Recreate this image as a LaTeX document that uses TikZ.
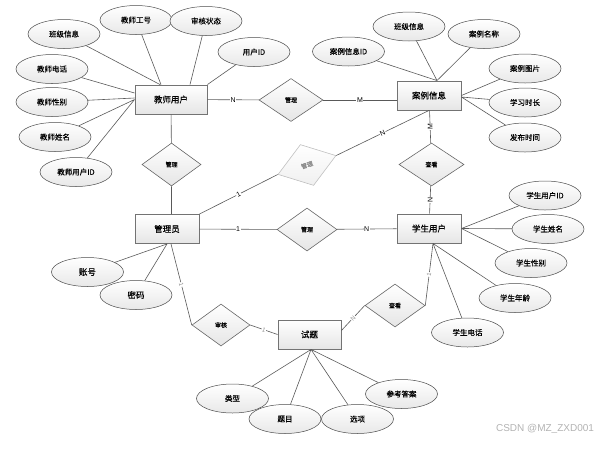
\documentclass[tikz,border=0pt]{standalone}
\usepackage{fontspec}
\setmainfont{Liberation Sans}
\newfontfamily\cjk[FakeBold=0.5]{Noto Sans CJK SC}
\usetikzlibrary{shapes.geometric}
\tikzset{
    entity/.style={rectangle, draw=black!55, line width=0.9pt, top color=white, bottom color=black!10, minimum width=64pt, minimum height=29pt, inner sep=0pt, font=\cjk\fontsize{8.5}{10}\selectfont},
    attr/.style={ellipse, draw=black!70, line width=0.5pt, top color=white, bottom color=black!9, minimum width=72pt, minimum height=29pt, inner sep=0pt, font=\cjk\fontsize{7.5}{9}\selectfont},
    rel/.style={diamond, draw=black!60, line width=0.6pt, top color=white, bottom color=black!10, minimum width=60pt, minimum height=43pt, inner sep=0pt, font=\cjk\fontsize{6}{7}\selectfont},
    card/.style={fill=white, inner sep=0.6pt, font=\fontsize{7}{8}\selectfont},
    faint/.style={card, text=black!45, font=\fontsize{6}{7}\selectfont},
    link/.style={draw=black!65, line width=0.6pt}
}
\begin{document}
\begin{tikzpicture}[x=1pt, y=-1pt]
    \useasboundingbox (0,0) rectangle (605,456);
    \node[entity, minimum width=72pt] (teacher) at (171,99.5) {教师用户};
    \node[entity] (caseinfo) at (429,95.5) {案例信息};
    \node[entity] (admin) at (167,229) {管理员};
    \node[entity] (student) at (429,228.5) {学生用户};
    \node[entity, minimum width=63pt] (exam) at (309.5,334.5) {试题};
    \node[rel, minimum width=64pt] (manage1) at (291,100) {管理};
    \node[rel, minimum width=59pt] (manage2) at (171.5,164.5) {管理};
    \node[rel, rotate=18, draw=black!25, text=black!45, bottom color=black!6, minimum width=61pt] (manage3) at (307,165) {管理};
    \node[rel] (manage4) at (307,229.5) {管理};
    \node[rel, minimum width=65pt] (view1) at (431.5,164.5) {查看};
    \node[rel, minimum width=58pt, minimum height=42pt] (audit) at (221,325) {审核};
    \node[rel] (view2) at (395,305.5) {查看};
    \node[attr] (t1) at (64,34) {班级信息};
    \node[attr] (t2) at (136,20) {教师工号};
    \node[attr] (t3) at (206,21) {审核状态};
    \node[attr] (t4) at (254,52) {用户ID};
    \node[attr] (t5) at (52,69) {教师电话};
    \node[attr] (t6) at (52,102) {教师性别};
    \node[attr] (t7) at (55,137) {教师姓名};
    \node[attr] (t8) at (76,172) {教师用户ID};
    \node[attr] (c1) at (348.5,51.5) {案例信息ID};
    \node[attr] (c2) at (409,26.5) {班级信息};
    \node[attr] (c3) at (484,34) {案例名称};
    \node[attr] (c4) at (525,68.5) {案例图片};
    \node[attr] (c5) at (525,102.5) {学习时长};
    \node[attr] (c6) at (525,137.5) {发布时间};
    \node[attr] (s1) at (545,195.5) {学生用户ID};
    \node[attr] (s2) at (548,229) {学生姓名};
    \node[attr] (s3) at (531,263) {学生性别};
    \node[attr] (s4) at (515,298) {学生年龄};
    \node[attr] (s5) at (467.5,332.5) {学生电话};
    \node[attr, font=\cjk\fontsize{8.5}{10}\selectfont] (a1) at (87.5,272) {账号};
    \node[attr, font=\cjk\fontsize{8.5}{10}\selectfont] (a2) at (136,295) {密码};
    \node[attr] (e1) at (232.5,398.5) {类型};
    \node[attr] (e2) at (285,419) {题目};
    \node[attr] (e3) at (357.5,419) {选项};
    \node[attr] (e4) at (401.5,394) {参考答案};
    \node[text=black!30, font=\fontsize{10}{11}\selectfont] (mark) at (545,429) {CSDN @MZ\_ZXD001};
    \draw[link] (t1) -- ([xshift=-11pt]teacher.north) (t2) -- ([xshift=-10pt]teacher.north) (t3) -- ([xshift=19pt]teacher.north) (t4) -- (teacher.north east);
    \draw[link] (t5) -- ([yshift=6.5pt]teacher.west) (t6) -- ([yshift=1.5pt]teacher.west) (t7) -- (teacher.west) (t8) -- (teacher.west);
    \draw[link] (c1) -- ([xshift=8pt]caseinfo.north) (c2) -- ([xshift=8pt]caseinfo.north) (c3) -- ([xshift=8pt]caseinfo.north);
    \draw[link] (c4) -- (caseinfo.east) (c5) -- ([yshift=-1.5pt]caseinfo.east) (c6) -- ([yshift=-1.5pt]caseinfo.east);
    \draw[link] (s1) -- (student.east) (s2) -- (student.east) (s3) -- (student.east) (s4) -- ([xshift=4pt]student.south) (s5) -- ([xshift=4pt]student.south);
    \draw[link] (a1) -- (admin.south) (a2) -- (admin.south);
    \draw[link] (e1) -- ([xshift=1.5pt]exam.south) (e2) -- ([xshift=1.5pt]exam.south) (e3) -- ([xshift=1.5pt]exam.south) (e4) -- ([xshift=1.5pt]exam.south);
    \draw[link] (teacher) -- node[card] {N} (manage1);
    \draw[link] (manage1) -- node[card] {M} (manage1 -| caseinfo.west);
    \draw[link] (teacher) -- (manage2) (manage2) -- (manage2 |- admin.north);
    \draw[link] (admin.north east) -- node[card, sloped] {1} (manage3.west);
    \draw[link] (manage3.east) -- node[card, sloped] {N} (caseinfo.south);
    \draw[link] (admin) -- node[card] {1} (manage4);
    \draw[link] (manage4) -- node[card] {N} (student);
    \draw[link] (caseinfo) -- node[card, rotate=90] {M} (view1);
    \draw[link] (view1) -- node[card, rotate=90] {N} (student);
    \draw[link] ([xshift=4pt]admin.south) -- node[faint, sloped] {1} (audit.west);
    \draw[link] (audit.east) -- node[faint, sloped] {1} (exam.west);
    \draw[link] ([yshift=4pt]exam.east) -- node[faint, sloped] {N} (view2.west);
    \draw[link] (view2.east) -- node[faint, sloped] {1} ([xshift=4pt]student.south);
\end{tikzpicture}
\end{document}
